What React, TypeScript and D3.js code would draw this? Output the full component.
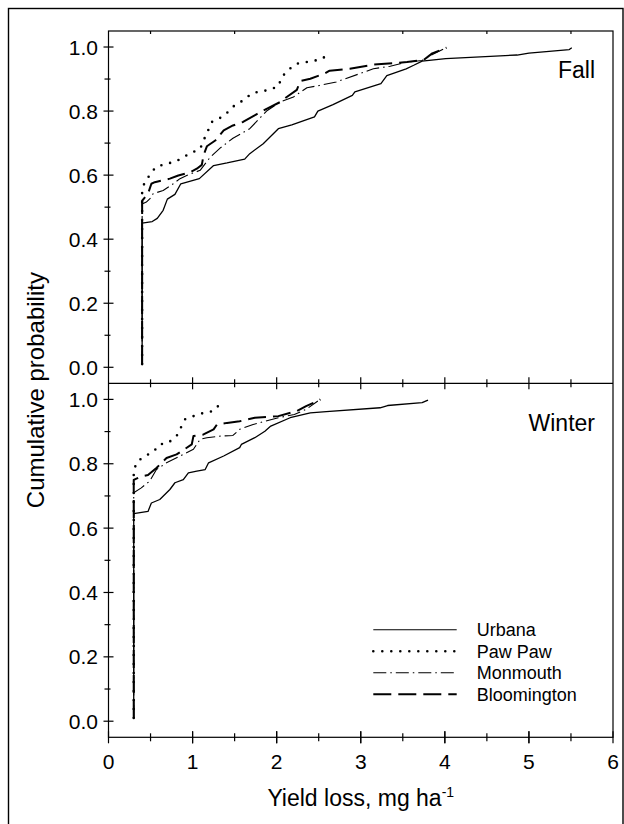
import React from "react";
import * as d3 from "d3";

// values: [yield loss, cumulative probability]
const fallUrbana = [
  [0.40, 0.01], [0.40, 0.45], [0.52, 0.455], [0.58, 0.465], [0.65, 0.49], [0.70, 0.525],
  [0.79, 0.54], [0.86, 0.573], [1.08, 0.589], [1.25, 0.63], [1.41, 0.638], [1.62, 0.65],
  [1.68, 0.667], [1.84, 0.698], [2.02, 0.745], [2.18, 0.757], [2.45, 0.782], [2.49, 0.80],
  [2.67, 0.82], [2.90, 0.849], [2.93, 0.86], [3.24, 0.886], [3.31, 0.911], [3.54, 0.932],
  [3.63, 0.943], [3.73, 0.956], [4.01, 0.964], [4.86, 0.975], [5.00, 0.981], [5.48, 0.992],
  [5.51, 0.998],
];
const fallPawPaw = [
  [0.40, 0.01], [0.40, 0.552], [0.43, 0.578], [0.56, 0.625], [0.69, 0.636], [0.79, 0.641],
  [0.89, 0.656], [0.98, 0.669], [1.09, 0.682], [1.13, 0.708], [1.23, 0.766], [1.33, 0.779],
  [1.42, 0.797], [1.50, 0.818], [1.60, 0.833], [1.70, 0.854], [1.80, 0.862], [1.90, 0.865],
  [2.02, 0.877], [2.06, 0.906], [2.14, 0.929], [2.24, 0.948], [2.35, 0.953], [2.46, 0.958],
  [2.55, 0.964], [2.63, 0.988],
];
const fallMonmouth = [
  [0.40, 0.01], [0.40, 0.51], [0.45, 0.516], [0.51, 0.531], [0.53, 0.542], [0.65, 0.552],
  [0.77, 0.573], [0.85, 0.589], [0.93, 0.599], [1.09, 0.615], [1.21, 0.656], [1.33, 0.685],
  [1.48, 0.715], [1.68, 0.745], [1.88, 0.80], [2.04, 0.828], [2.20, 0.844], [2.36, 0.873],
  [2.51, 0.88], [2.71, 0.891], [2.99, 0.917], [3.15, 0.932], [3.35, 0.94], [3.55, 0.953],
  [3.73, 0.958], [3.87, 0.979], [4.02, 0.998],
];
const fallBloomington = [
  [0.40, 0.01], [0.40, 0.52], [0.47, 0.542], [0.51, 0.573], [0.55, 0.578], [0.73, 0.589],
  [0.83, 0.599], [0.97, 0.609], [1.05, 0.62], [1.11, 0.632], [1.13, 0.662], [1.17, 0.69],
  [1.27, 0.708], [1.37, 0.74], [1.48, 0.755], [1.60, 0.766], [1.76, 0.79], [1.88, 0.807],
  [2.04, 0.828], [2.12, 0.844], [2.24, 0.866], [2.28, 0.894], [2.40, 0.901], [2.57, 0.917],
  [2.63, 0.926], [2.87, 0.932], [3.15, 0.945], [3.55, 0.953], [3.75, 0.96], [3.85, 0.98],
  [4.02, 0.998],
];

const winterUrbana = [
  [0.30, 0.01], [0.30, 0.645], [0.47, 0.652], [0.51, 0.678], [0.61, 0.689], [0.73, 0.72],
  [0.79, 0.741], [0.89, 0.751], [0.95, 0.772], [1.05, 0.777], [1.15, 0.782], [1.19, 0.803],
  [1.37, 0.824], [1.56, 0.85], [1.58, 0.86], [1.74, 0.881], [1.86, 0.901], [1.93, 0.917],
  [2.16, 0.943], [2.40, 0.958], [2.59, 0.962], [3.23, 0.974], [3.32, 0.981], [3.73, 0.99],
  [3.80, 0.998],
];
const winterPawPaw = [
  [0.30, 0.01], [0.30, 0.75], [0.30, 0.782], [0.35, 0.808], [0.43, 0.824], [0.53, 0.836],
  [0.61, 0.86], [0.71, 0.865], [0.81, 0.886], [0.91, 0.938], [1.01, 0.948], [1.13, 0.958],
  [1.25, 0.964], [1.32, 0.984],
];
const winterMonmouth = [
  [0.30, 0.01], [0.30, 0.71], [0.39, 0.725], [0.49, 0.746], [0.57, 0.782], [0.69, 0.803],
  [0.85, 0.824], [1.01, 0.845], [1.09, 0.876], [1.17, 0.881], [1.33, 0.886], [1.48, 0.888],
  [1.56, 0.907], [1.72, 0.922], [2.02, 0.943], [2.21, 0.953], [2.35, 0.969], [2.49, 0.995],
];
const winterBloomington = [
  [0.30, 0.01], [0.30, 0.75], [0.39, 0.761], [0.47, 0.765], [0.57, 0.787], [0.69, 0.818],
  [0.81, 0.829], [0.99, 0.86], [1.01, 0.886], [1.13, 0.891], [1.25, 0.907], [1.29, 0.922],
  [1.41, 0.927], [1.56, 0.932], [1.74, 0.943], [2.02, 0.948], [2.24, 0.964], [2.35, 0.979],
  [2.49, 0.995], [2.52, 1.0],
];

const siteNames = ["Urbana", "Paw Paw", "Monmouth", "Bloomington"];
const seasonNames = ["Fall", "Winter"];
const xTickValues = [0, 1, 2, 3, 4, 5, 6];
const yTickValues = [0, 0.2, 0.4, 0.6, 0.8, 1.0];

const lineStyles = [
  { dash: null, width: 1.3, cap: "butt" },
  { dash: "0 9", width: 2.6, cap: "round" },
  { dash: "13 4 1.5 4", width: 1.1, cap: "butt" },
  { dash: "18 7", width: 2, cap: "butt" },
];

const W = 624;
const H = 824;
const left = 108.5;
const right = 613;
const top = 31;
const mid = 383.3;
const bottom = 737.3;
const font = "'Liberation Sans', Arial, sans-serif";

const x = d3.scaleLinear().domain([0, 6]).range([left, right]);
const yFall = d3.scaleLinear().domain([-0.05, 1.05]).range([mid, top]);
const yWinter = d3.scaleLinear().domain([-0.05, 1.05]).range([bottom, mid]);

const Panel = ({ y, series, label }) => {
  const line = d3.line().x(d => x(d[0])).y(d => y(d[1]));
  const minor = d3.range(0, 1.0001, 0.1).filter(v => Math.round(v * 10) % 2 === 1);
  return (
    <g>
      {series.map((s, i) => (
        <path key={i} d={line(s)} fill="none" stroke="#000"
          strokeWidth={lineStyles[i].width}
          strokeDasharray={lineStyles[i].dash || undefined}
          strokeLinecap={lineStyles[i].cap}
          strokeLinejoin="round" />
      ))}
      {yTickValues.map(v => (
        <g key={v}>
          <line x1={left - 5} x2={left + 5} y1={y(v)} y2={y(v)} stroke="#000" strokeWidth={1.2} />
          <text x={left - 10.5} y={y(v)} dy="0.36em" textAnchor="end" fontSize={21} fontFamily={font}>
            {v.toFixed(1)}
          </text>
        </g>
      ))}
      {minor.map(v => (
        <line key={v} x1={left - 4} x2={left + 2} y1={y(v)} y2={y(v)} stroke="#000" strokeWidth={1.2} />
      ))}
      <text x={595} y={y(1.05) + 47.3} textAnchor="end" fontSize={23} fontFamily={font}>{label}</text>
    </g>
  );
};

const XTicks = ({ at }) => (
  <g>
    {d3.range(0.5, 6, 0.5).map(v => {
      const major = Number.isInteger(v);
      const h = major ? 6 : 4;
      return <line key={v} x1={x(v)} x2={x(v)} y1={at - h} y2={at + h} stroke="#000" strokeWidth={1.2} />;
    })}
  </g>
);

export default function App() {
  const legendX = 373.3;
  const legendY = d3.scaleBand().domain(siteNames).range([619, 705]);
  return (
    <svg width={W} height={H} style={{ position: "absolute", left: 0, top: 0, background: "#fff" }}>
      <rect x={8.5} y={8.5} width={614.5} height={830} fill="none" stroke="#000" strokeWidth={1.4} />

      <Panel y={yFall} series={[fallUrbana, fallPawPaw, fallMonmouth, fallBloomington]} label={seasonNames[0]} />
      <Panel y={yWinter} series={[winterUrbana, winterPawPaw, winterMonmouth, winterBloomington]} label={seasonNames[1]} />

      <rect x={left} y={top} width={right - left} height={bottom - top} fill="none" stroke="#000" strokeWidth={1.2} />
      <line x1={left} x2={right} y1={mid} y2={mid} stroke="#000" strokeWidth={1.2} />

      {d3.range(0.5, 6, 1).map(v => (
        <line key={v} x1={x(v)} x2={x(v)} y1={top} y2={top + 3} stroke="#000" strokeWidth={1.2} />
      ))}
      <XTicks at={mid} />
      <XTicks at={bottom} />
      {xTickValues.map(v => (
        <g key={v}>
          <line x1={x(v)} x2={x(v)} y1={bottom - 6} y2={bottom + 6} stroke="#000" strokeWidth={1.2} />
          <text x={x(v)} y={768.5} textAnchor="middle" fontSize={21} fontFamily={font}>{v}</text>
        </g>
      ))}

      <text x={(left + right) / 2} y={805.7} textAnchor="middle" fontSize={23} fontFamily={font}>
        Yield loss, mg ha<tspan fontSize={14} dy={-9}>-1</tspan>
      </text>
      <text transform={`translate(44,${(top + bottom) / 2 + 6}) rotate(-90)`} textAnchor="middle"
        fontSize={24} fontFamily={font}>Cumulative probability</text>

      {siteNames.map((name, i) => {
        const cy = legendY(name) + legendY.bandwidth() / 2;
        return (
          <g key={name}>
            <line x1={legendX} x2={456.7} y1={cy} y2={cy} stroke="#000"
              strokeWidth={i === 0 ? 1.1 : lineStyles[i].width}
              strokeDasharray={lineStyles[i].dash || undefined}
              strokeLinecap={lineStyles[i].cap} />
            <text x={476.7} y={cy} dy="0.36em" fontSize={18} fontFamily={font}>{name}</text>
          </g>
        );
      })}
    </svg>
  );
}
